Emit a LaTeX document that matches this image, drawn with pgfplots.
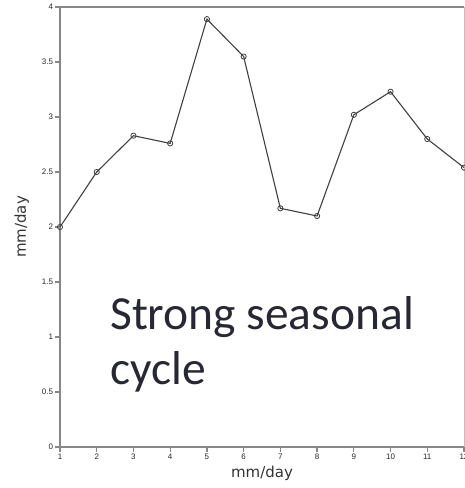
\documentclass[border=0pt]{standalone}
\usepackage{pgfplots}
\pgfplotsset{compat=1.18}
\usepackage{fontspec}
\setmainfont{Liberation Sans}
\newfontfamily\labelfont{DejaVu Sans}
\newfontfamily\calfont{Carlito}
\definecolor{axgray}{RGB}{135,135,135}
\definecolor{txtdark}{RGB}{40,40,52}
\begin{document}
\begin{tikzpicture}
\begin{axis}[
  at={(0,0)}, anchor=south west,
  scale only axis,
  width=404pt, height=440pt,
  xmin=1, xmax=12, ymin=0, ymax=4,
  axis lines=left,
  axis line style={-, draw=none},
  xtick={1,...,12},
  ytick={0,0.5,1,1.5,2,2.5,3,3.5,4},
  yticklabels={0,0.5,1,1.5,2,2.5,3,3.5,4},
  tick align=outside,
  major tick length=4.5pt,
  tick style={draw=axgray, line width=1.2pt},
  /pgf/number format/assume math mode=true,
  ticklabel style={font=\fontsize{8}{9}\selectfont, text=black!85},
  xticklabel style={yshift=1pt},
  yticklabel style={xshift=1pt},
  xlabel={mm/day},
  ylabel={mm/day},
  label style={font=\labelfont\fontsize{15}{16}\selectfont, text=black!80},
  xlabel style={yshift=0pt},
  ylabel style={yshift=6pt},
  clip=false,
]
\draw[axgray, line width=2.6pt] (rel axis cs:0,0) -- (rel axis cs:0,1);
\draw[axgray, line width=2.6pt] (rel axis cs:0,0) -- (rel axis cs:1,0);
\draw[axgray, line width=2.6pt] (rel axis cs:0,1) -- (rel axis cs:1,1);
\draw[black!25, line width=0.8pt] (rel axis cs:1,0) -- (rel axis cs:1,1);
\addplot[black!75, line width=1.1pt, mark=o, mark size=2.6pt,
  mark options={fill=white, line width=0.8pt}] coordinates {
  (1,2.00) (2,2.50) (3,2.83) (4,2.76) (5,3.89) (6,3.55)
  (7,2.17) (8,2.10) (9,3.02) (10,3.23) (11,2.80) (12,2.54)
};
\end{axis}
\node[anchor=base west, inner sep=0pt, text=txtdark, font=\calfont\fontsize{47.5}{55}\selectfont] at (50pt,117pt) {Strong seasonal};
\node[anchor=base west, inner sep=0pt, text=txtdark, font=\calfont\fontsize{47.5}{55}\selectfont] at (50pt,62pt) {cycle};
\pgfresetboundingbox
\path[use as bounding box] (-60pt,-41pt) rectangle (404pt,447pt);
\end{tikzpicture}
\end{document}
